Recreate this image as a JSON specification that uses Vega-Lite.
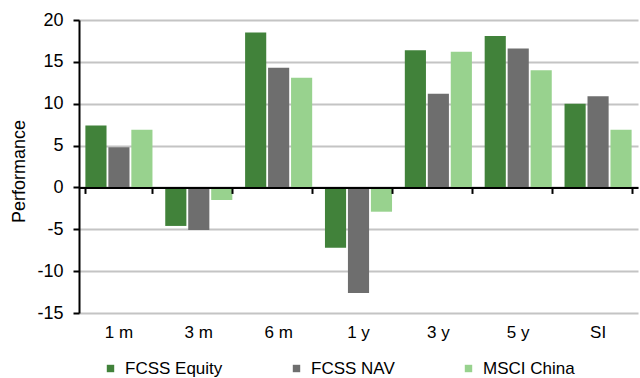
{
  "$schema": "https://vega.github.io/schema/vega-lite/v6.json",
  "width": 559,
  "height": 293,
  "autosize": "none",
  "padding": {"left": 79, "top": 20, "right": 2, "bottom": 65},
  "background": "white",
  "config": {
    "view": {"stroke": null},
    "font": "Liberation Sans, Arial, sans-serif"
  },
  "data": {
    "values": [
      {"period": "1 m", "series": "FCSS Equity", "value": 7.4},
      {"period": "1 m", "series": "FCSS NAV", "value": 4.8},
      {"period": "1 m", "series": "MSCI China", "value": 6.9},
      {"period": "3 m", "series": "FCSS Equity", "value": -4.6},
      {"period": "3 m", "series": "FCSS NAV", "value": -5.1},
      {"period": "3 m", "series": "MSCI China", "value": -1.5},
      {"period": "6 m", "series": "FCSS Equity", "value": 18.5},
      {"period": "6 m", "series": "FCSS NAV", "value": 14.3},
      {"period": "6 m", "series": "MSCI China", "value": 13.1},
      {"period": "1 y", "series": "FCSS Equity", "value": -7.2},
      {"period": "1 y", "series": "FCSS NAV", "value": -12.6},
      {"period": "1 y", "series": "MSCI China", "value": -2.9},
      {"period": "3 y", "series": "FCSS Equity", "value": 16.4},
      {"period": "3 y", "series": "FCSS NAV", "value": 11.2},
      {"period": "3 y", "series": "MSCI China", "value": 16.2},
      {"period": "5 y", "series": "FCSS Equity", "value": 18.1},
      {"period": "5 y", "series": "FCSS NAV", "value": 16.6},
      {"period": "5 y", "series": "MSCI China", "value": 14.0},
      {"period": "SI", "series": "FCSS Equity", "value": 10.0},
      {"period": "SI", "series": "FCSS NAV", "value": 10.9},
      {"period": "SI", "series": "MSCI China", "value": 6.9}
    ]
  },
  "encoding": {
    "x": {
      "field": "period",
      "type": "nominal",
      "sort": ["1 m", "3 m", "6 m", "1 y", "3 y", "5 y", "SI"],
      "scale": {"paddingInner": 0.16, "paddingOuter": 0.08}
    },
    "y": {
      "field": "value",
      "type": "quantitative",
      "scale": {"domain": [-15, 20], "nice": false, "zero": false},
      "axis": {
        "title": "Performance",
        "titleFontSize": 18,
        "titleFontWeight": "normal",
        "titleColor": "#000000",
        "titleX": -60,
        "titleY": 151,
        "titleAngle": -90,
        "titleAlign": "center",
        "titleBaseline": "middle",
        "values": [-15, -10, -5, 0, 5, 10, 15, 20],
        "labelExpr": "toString(datum.value)",
        "labelFontSize": 18,
        "labelColor": "#000000",
        "labelPadding": 10,
        "domain": true,
        "domainColor": "#000000",
        "domainWidth": 2,
        "ticks": true,
        "tickColor": "#000000",
        "tickSize": 6,
        "tickWidth": 2,
        "grid": true,
        "gridColor": "#C4C4C4",
        "gridWidth": 2
      }
    }
  },
  "layer": [
    {
      "mark": {"type": "bar"},
      "encoding": {
        "x": {
          "field": "period",
          "type": "nominal",
          "sort": ["1 m", "3 m", "6 m", "1 y", "3 y", "5 y", "SI"],
          "axis": {
            "orient": "bottom",
            "title": null,
            "labelAngle": 0,
            "labelFontSize": 17,
            "labelColor": "#000000",
            "labelPadding": 11,
            "domain": false,
            "ticks": false,
            "grid": false
          }
        },
        "xOffset": {
          "field": "series",
          "type": "nominal",
          "scale": {"paddingInner": 0.08}
        },
        "color": {
          "field": "series",
          "type": "nominal",
          "scale": {
            "domain": ["FCSS Equity", "FCSS NAV", "MSCI China"],
            "range": ["#41823A", "#6E6E6E", "#98D28E"]
          },
          "legend": {
            "title": null,
            "orient": "none",
            "direction": "horizontal",
            "gridAlign": "none",
            "legendX": 23,
            "legendY": 340,
            "symbolType": "square",
            "symbolSize": 55,
            "symbolStrokeWidth": 0,
            "labelFontSize": 17,
            "labelColor": "#000000",
            "labelOffset": 6,
            "columnPadding": 65
          }
        }
      }
    },
    {
      "mark": {"type": "bar", "opacity": 0},
      "encoding": {
        "x": {
          "field": "period",
          "type": "nominal",
          "sort": ["1 m", "3 m", "6 m", "1 y", "3 y", "5 y", "SI"],
          "axis": {
            "orient": "bottom",
            "title": null,
            "labels": false,
            "domain": true,
            "domainColor": "#000000",
            "domainWidth": 2,
            "ticks": true,
            "tickBand": "extent",
            "tickColor": "#000000",
            "tickSize": 6,
            "tickWidth": 2,
            "grid": false,
            "zindex": 1,
            "offset": -125.57
          }
        }
      }
    }
  ],
  "resolve": {"axis": {"x": "independent"}}
}
